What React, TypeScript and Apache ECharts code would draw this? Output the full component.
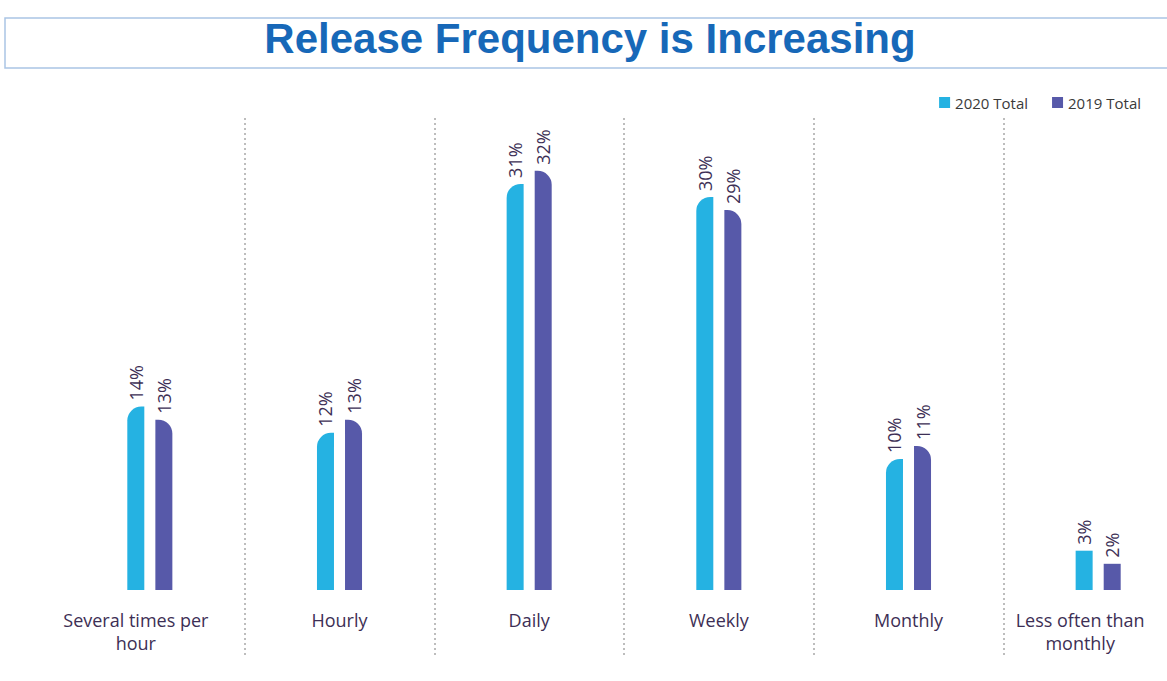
import React, { useEffect, useRef } from "react";
import * as echarts from "echarts";

const categories = [
  "Several times per\nhour",
  "Hourly",
  "Daily",
  "Weekly",
  "Monthly",
  "Less often than\nmonthly",
];
const series2020 = [14, 12, 31, 30, 10, 3];
const series2019 = [13, 13, 32, 29, 11, 2];
const seriesNames = ["2020 Total", "2019 Total"];
const titleText = "Release Frequency is Increasing";

const CYAN = "#25b2e2";
const PURPLE = "#5759a9";
const TEXT = "#3d2f55";
// horizontal nudge (right padding) of some category labels, as in the reference
const labelPadRight: Record<number, number> = { 0: 28, 5: 36 };

export default function App() {
  const ref = useRef<HTMLDivElement>(null);
  useEffect(() => {
    if (!ref.current) return;
    const chart = echarts.init(ref.current, null, { renderer: "svg" });
    const mk = (vals: number[], radius: number[]) =>
      vals.map((v) => ({
        value: v,
        itemStyle: { borderRadius: v < 5 ? 0 : radius },
      }));
    const label = {
      show: true,
      position: "top" as const,
      rotate: 90,
      align: "left" as const,
      verticalAlign: "middle" as const,
      distance: 6,
      formatter: "{c}%",
      color: TEXT,
      fontSize: 18,
      fontFamily: "Open Sans",
    };
    const catData = categories.map((c, i) => ({
      value: c,
      textStyle: labelPadRight[i] ? { padding: [0, labelPadRight[i], 0, 0] } : {},
    }));
    chart.setOption({
      animation: false,
      backgroundColor: "#ffffff",
      graphic: [
        {
          type: "rect",
          shape: { x: 5, y: 18, width: 1250, height: 50 },
          style: { fill: "#ffffff", stroke: "#aac5e5", lineWidth: 1.5 },
          z: -1,
        },
        {
          type: "text",
          x: 590,
          y: 38,
          style: {
            text: titleText,
            fill: "#1768b8",
            font: "bold 42px 'Liberation Sans', Arial, sans-serif",
            textAlign: "center",
            textVerticalAlign: "middle",
          },
        },
      ],
      legend: {
        data: seriesNames,
        right: 74,
        top: 90,
        itemWidth: 11,
        itemHeight: 11,
        itemGap: 24,
        icon: "rect",
        textStyle: { color: "#3a3a3a", fontSize: 15, fontFamily: "Open Sans" },
      },
      grid: [
        { left: 55, width: 1138, top: 66, bottom: 91 },
        { left: 55, width: 1138, top: 118, bottom: 25 },
      ],
      xAxis: [
        {
          type: "category",
          gridIndex: 0,
          data: catData,
          axisLine: { show: false },
          axisTick: { show: false },
          splitLine: { show: false },
          axisLabel: {
            color: TEXT,
            fontSize: 18,
            fontFamily: "Open Sans",
            margin: 18,
            lineHeight: 23,
            interval: 0,
          },
        },
        {
          type: "category",
          gridIndex: 1,
          data: categories,
          axisLine: { show: false },
          axisTick: { show: false },
          axisLabel: { show: false },
          splitLine: {
            show: true,
            showMinLine: false,
            showMaxLine: false,
            interval: 0,
            lineStyle: { color: "#a8a8a8", type: [2, 3], width: 1.5 },
          },
        },
      ],
      yAxis: [
        { type: "value", gridIndex: 0, min: 0, max: 40, show: false },
        { type: "value", gridIndex: 1, min: 0, max: 1, show: false },
      ],
      series: [
        {
          name: seriesNames[0],
          type: "bar",
          xAxisIndex: 0,
          yAxisIndex: 0,
          barWidth: 17,
          barGap: "65%",
          itemStyle: { color: CYAN },
          label,
          data: mk(series2020, [14, 0, 0, 0]),
        },
        {
          name: seriesNames[1],
          type: "bar",
          xAxisIndex: 0,
          yAxisIndex: 0,
          barWidth: 17,
          barGap: "65%",
          itemStyle: { color: PURPLE },
          label,
          data: mk(series2019, [0, 14, 0, 0]),
        },
      ],
    });
    return () => chart.dispose();
  }, []);
  return (
    <div
      style={{
        position: "absolute",
        left: 0,
        top: 0,
        width: 1167,
        height: 681,
        overflow: "hidden",
      }}
    >
      <div ref={ref} style={{ width: 1220, height: 681 }} />
    </div>
  );
}
